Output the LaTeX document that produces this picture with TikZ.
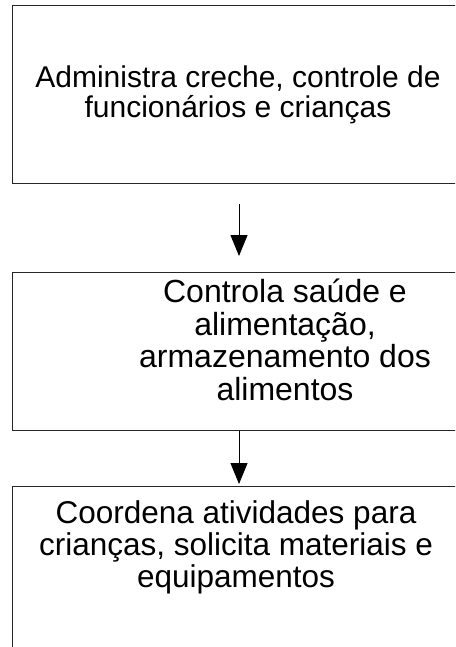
\documentclass[tikz,border=0pt]{standalone}
\usepackage{fontspec}
\setmainfont{Liberation Sans}
\usetikzlibrary{arrows.meta}
\tikzset{
  boxframe/.style={draw=black!85, line width=1.1pt, rectangle, inner sep=0pt},
  boxtext/.style={align=center, inner sep=0pt, anchor=base, text=black},
  flowarrow/.style={draw=black, line width=1pt, -{Triangle[width=17pt,length=21pt]}},
}
\begin{document}
\begin{tikzpicture}[x=1pt,y=-1pt]
  \useasboundingbox (0,0) rectangle (455,647);
  \clip (0,0) rectangle (455,647);
  % boxes (extend beyond the right edge; the third also beyond the bottom)
  \node[boxframe, minimum width=460pt, minimum height=178pt, anchor=north west] (b1) at (12,5) {};
  \node[boxframe, minimum width=460pt, minimum height=158pt, anchor=north west] (b2) at (12,272) {};
  \node[boxframe, minimum width=460pt, minimum height=200pt, anchor=north west] (b3) at (12,486) {};
  % texts (base anchor = baseline of the last line)
  \node[boxtext, font=\fontsize{30}{30}\selectfont] (t1) at (238,118)
    {Administra creche, controle de\\funcionários e crianças};
  \node[boxtext, font=\fontsize{32}{32.5}\selectfont] (t2) at (285,400)
    {Controla saúde e\\alimentação,\\armazenamento dos\\alimentos};
  \node[boxtext, font=\fontsize{31.5}{32}\selectfont] (t3) at (236,587)
    {Coordena atividades para\\crianças, solicita materiais e\\equipamentos};
  % connectors
  \coordinate (a1s) at (239,204);
  \draw[flowarrow] (a1s) -- (a1s |- 0,256);
  \draw[flowarrow] (b2.south -| a1s) -- (a1s |- 0,484);
\end{tikzpicture}
\end{document}
